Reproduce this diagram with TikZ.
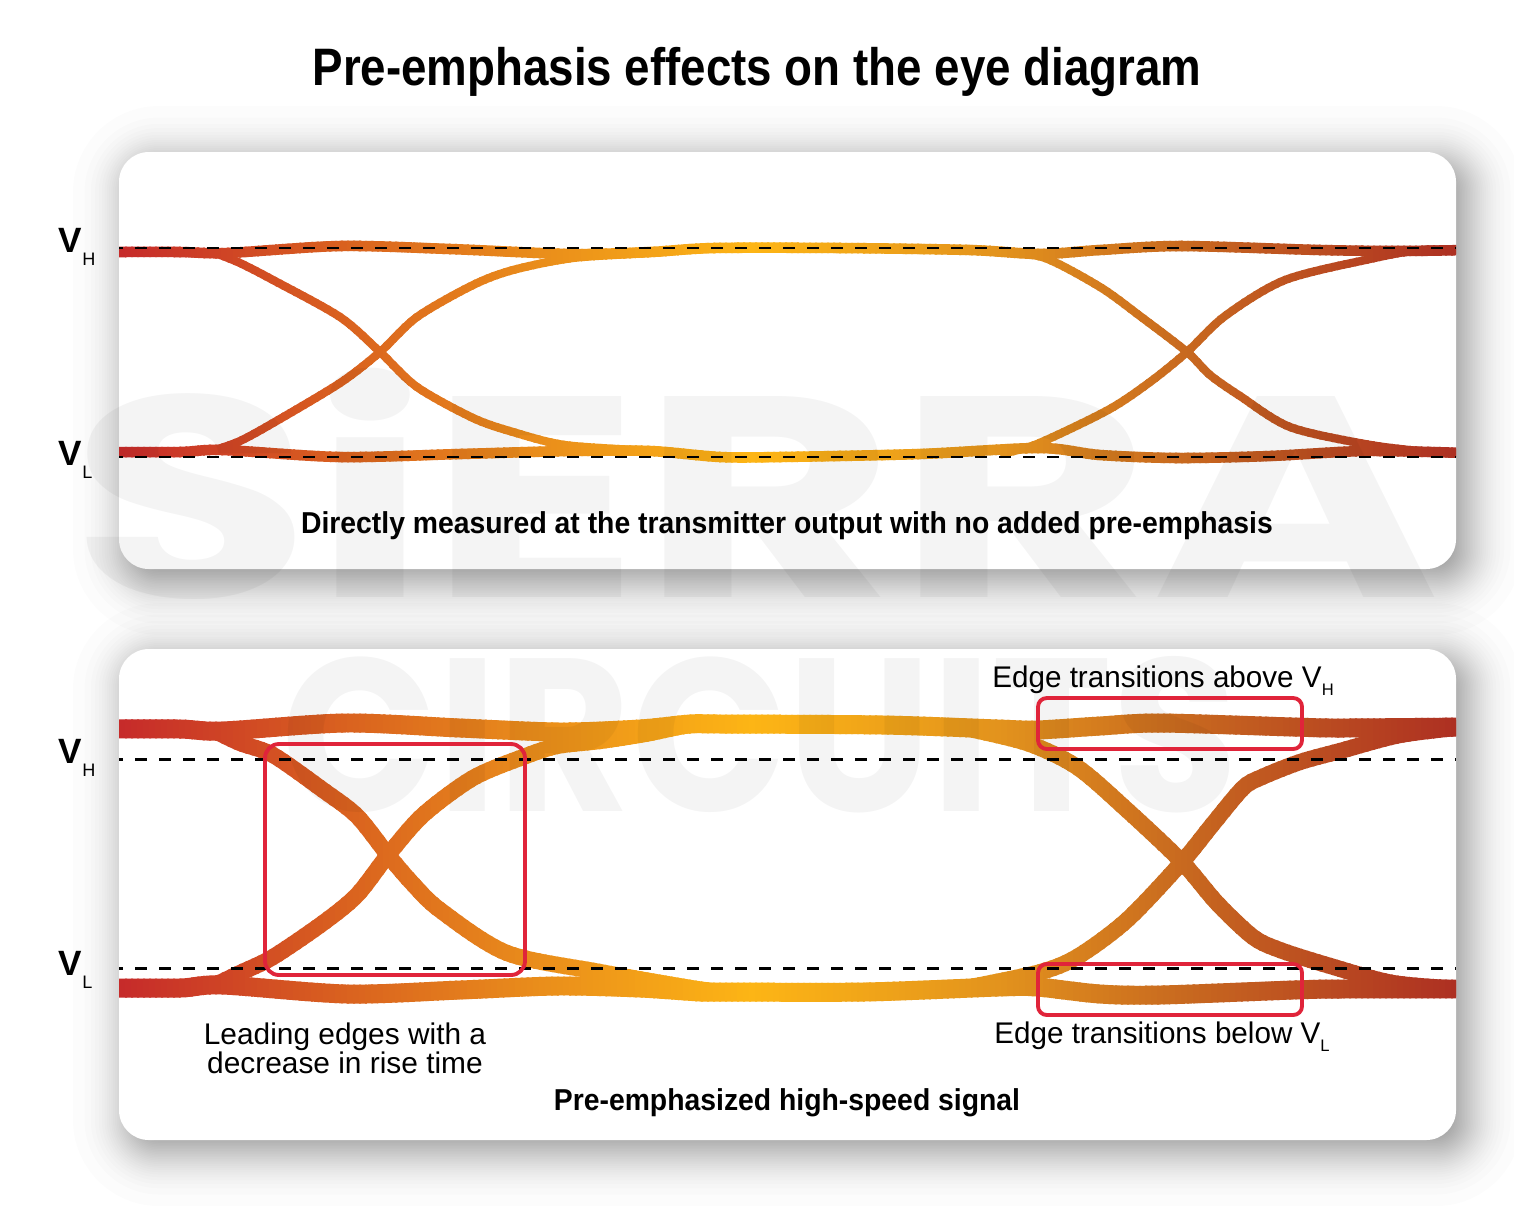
\documentclass[tikz,border=0pt]{standalone}
\usepackage{fontspec}
\setmainfont{Liberation Sans}
\newfontfamily\wmfont{Poppins}
\definecolor{banda}{HTML}{C62B2A}
\definecolor{bandb}{HTML}{D9611F}
\definecolor{bandc}{HTML}{E98C1B}
\definecolor{bandd}{HTML}{FDB515}
\definecolor{bande}{HTML}{E2921D}
\definecolor{bandf}{HTML}{C8691F}
\definecolor{bandg}{HTML}{AD2F22}
\definecolor{boxred}{HTML}{E0243A}
\tikzset{
  wmark/.style={anchor=base,transform shape,inner sep=0pt,text=black,text opacity=0.045},
  railhi/.style={line width=6pt},
  diaghi/.style={line width=4.7pt},
  raillo/.style={line width=10.8pt},
  diaglo/.style={line width=9.2pt},
  dashhi/.style={black,line width=1.2pt,dash pattern=on 6.83pt off 6.83pt,dash phase=4.5pt},
  dashlo/.style={black,line width=1.7pt,dash pattern=on 6.83pt off 6.83pt,dash phase=4.5pt},
  redbox/.style={draw=boxred,line width=2.2pt,rounded corners=5pt},
  caption/.style={anchor=base,inner sep=0pt,transform shape,xscale=0.938,font=\fontsize{17.2}{17.2}\selectfont\bfseries},
  note/.style={inner sep=0pt,font=\fontsize{17}{16.6}\selectfont,align=center},
  voltlab/.style={anchor=base west,inner sep=0pt,font=\fontsize{20}{20}\selectfont},
}
\newcommand{\voltsub}[1]{\textbf{V}\kern0.3pt\raisebox{-7.4pt}{\fontsize{10.3}{12}\selectfont #1}}
\newcommand{\notesub}[1]{V\raisebox{-5pt}{\fontsize{9.5}{11}\selectfont #1}}
% colour of the traces along x
\newcommand{\setband}[1]{%
  \ifnum#1<340 \pgfmathsetmacro\bandt{(#1-119)/2.21}\colorlet{bandcol}{bandb!\bandt!banda}%
  \else\ifnum#1<530 \pgfmathsetmacro\bandt{(#1-340)/1.90}\colorlet{bandcol}{bandc!\bandt!bandb}%
  \else\ifnum#1<750 \pgfmathsetmacro\bandt{(#1-530)/2.20}\colorlet{bandcol}{bandd!\bandt!bandc}%
  \else\ifnum#1<1000 \pgfmathsetmacro\bandt{(#1-750)/2.50}\colorlet{bandcol}{bande!\bandt!bandd}%
  \else\ifnum#1<1180 \pgfmathsetmacro\bandt{(#1-1000)/1.80}\colorlet{bandcol}{bandf!\bandt!bande}%
  \else \pgfmathsetmacro\bandt{(#1-1180)/2.76}\colorlet{bandcol}{bandg!\bandt!bandf}%
  \fi\fi\fi\fi\fi}
% blurred shadow: layers spaced like a bell curve
\newcommand{\cardshadow}[4]{%
  \foreach \z in {-2.24,-1.78,-1.53,-1.36,-1.21,-1.09,-0.98,-0.89,-0.80,-0.71,-0.64,-0.56,-0.49,-0.42,-0.35,-0.285,-0.22,-0.157,-0.094,-0.031,0.031,0.094,0.157,0.22,0.285,0.35,0.42,0.49,0.56,0.64,0.71,0.80,0.89,0.98,1.09,1.21,1.36,1.53,1.78,2.24}{
    \pgfmathsetmacro\e{25*\z}
    \pgfmathsetmacro\cr{max(2,30+\e)*0.569}
    \fill[black,opacity=0.0135,rounded corners=\cr pt]
      ({#1-(\e)},{#2-(\e)}) rectangle ({#3+(\e)},{#4+(\e)});
  }}
\begin{document}
\begin{tikzpicture}[x=0.02cm,y=-0.02cm]
  \useasboundingbox (0,0) rectangle (1514,1205);
  \fill[white] (0,0) rectangle (1514,1205);
  % cards
  \cardshadow{129}{162}{1466}{579}
  \cardshadow{129}{659}{1466}{1150}
  \fill[white,rounded corners=17pt] (119,152) rectangle (1456,569);
  \fill[white,rounded corners=17pt] (119,649) rectangle (1456,1140);
  % eye traces, one strip of colour at a time
  \begin{scope}
    \clip (119,0) rectangle (1456,1205);
    \foreach \sx in {119,125,...,1455}{
      \setband{\sx}
      \begin{scope}
        \clip (\sx,200) rectangle ({\sx+8},1040);
        \begin{scope}[draw=bandcol,smooth,tension=0.5]
          \draw[railhi] plot coordinates {(110,252)(180,252)(227,253)(340,246)(450,249)(570,254)(650,252)(714,248)(840,248)(970,250)(1040,254)(1100,250)(1180,246)(1320,250)(1400,251)(1465,250)};
          \draw[railhi] plot coordinates {(110,452)(180,452)(223,450)(340,457)(460,454)(570,451)(650,451)(720,457)(780,457)(920,454)(1040,448)(1100,455)(1178,458)(1270,456)(1365,451)(1465,453)};
          \draw[diaghi] plot coordinates {(215,253)(240,263)(273,280)(340,317)(380,352)(417,387)(473,418)(513,432)(565,445)(650,451)(720,457)};
          \draw[diaghi] plot coordinates {(215,450)(240,441)(273,423)(340,383)(380,352)(417,317)(473,285)(513,270)(573,258)(650,253)(714,248)};
          \draw[diaghi] plot coordinates {(1000,251)(1045,258)(1100,287)(1140,316)(1187,352)(1210,375)(1240,396)(1290,427)(1365,444)(1420,451)(1465,453)};
          \draw[diaghi] plot coordinates {(1000,454)(1037,444)(1108,410)(1150,382)(1187,352)(1225,316)(1285,280)(1370,259)(1420,250)(1465,250)};
          \draw[raillo] plot coordinates {(110,729)(180,729)(223,731)(345,723)(460,728)(560,732)(640,729)(690,724)(722,724)(883,725)(998,729)(1037,730)(1100,726)(1160,723)(1293,727)(1340,728)(1465,727)};
          \draw[raillo] plot coordinates {(110,988)(180,988)(223,985)(347,994)(460,990)(557,986)(640,988)(700,992)(722,992)(864,992)(998,987)(1037,987)(1100,994)(1160,995)(1293,990)(1340,989)(1465,989)};
          \draw[diaglo] plot coordinates {(215,731)(240,743)(273,755)(323,790)(357,816)(388,855)(412,883)(440,910)(507,953)(600,972)(691,988)(722,992)};
          \draw[diaglo] plot coordinates {(215,985)(240,973)(273,957)(323,923)(357,895)(388,855)(423,815)(473,778)(523,757)(557,746)(600,741)(645,734)(690,725)(722,724)};
          \draw[diaglo] plot coordinates {(960,727)(1027,743)(1077,767)(1127,810)(1182,862)(1217,903)(1253,937)(1280,950)(1327,965)(1393,983)(1465,989)};
          \draw[diaglo] plot coordinates {(960,989)(1037,973)(1077,957)(1127,920)(1182,862)(1212,825)(1243,788)(1262,777)(1300,762)(1340,751)(1400,735)(1465,727)};
        \end{scope}
      \end{scope}
    }
  \end{scope}
  % watermark
  \node[wmark,xscale=1.37,font=\fontsize{163}{163}\wmfont\bfseries] (sierra) at (756,597) {SiERRA};
  \node[wmark,xscale=0.94,font=\fontsize{124}{124}\wmfont\bfseries] (circuits) at (760,811) {CIRCUITS};
  % levels
  \coordinate (hia) at (119,248);
  \coordinate (hib) at (1456,248);
  \coordinate (lia) at (119,457);
  \coordinate (lib) at (1456,457);
  \coordinate (hoa) at (119,759);
  \coordinate (hob) at (1456,759);
  \coordinate (loa) at (119,968);
  \coordinate (lob) at (1456,968);
  \draw[dashhi] (hia) -- (hib);
  \draw[dashhi] (lia) -- (lib);
  \draw[dashlo] (hoa) -- (hob);
  \draw[dashlo] (loa) -- (lob);
  % marked regions
  \draw[redbox,rounded corners=8pt] (265,744) rectangle (525,975);
  \draw[redbox] (1038,698) rectangle (1302,749);
  \draw[redbox] (1038,964) rectangle (1302,1015);
  % texts
  \node[anchor=base,inner sep=0pt,transform shape,xscale=0.867,font=\fontsize{30}{32}\selectfont\bfseries] (title) at (757,85) {Pre-emphasis effects on the eye diagram};
  \node[caption] (capa) at (787,533) {Directly measured at the transmitter output with no added pre-emphasis};
  \node[caption] (capb) at (787,1110) {Pre-emphasized high-speed signal};
  \node[voltlab] (vha) at (58,252) {\voltsub{H}};
  \node[voltlab] (vla) at (58,465) {\voltsub{L}};
  \node[voltlab] (vhb) at (58,763) {\voltsub{H}};
  \node[voltlab] (vlb) at (58,975) {\voltsub{L}};
  \node[note,anchor=base west,transform shape,xscale=0.992] (above) at (992,687) {Edge transitions above \notesub{H}};
  \node[note,anchor=base west,transform shape,xscale=0.992] (below) at (994,1043) {Edge transitions below \notesub{L}};
  \node[note] (lead) at (345,1048) {Leading edges with a\\decrease in rise time};
\end{tikzpicture}
\end{document}
